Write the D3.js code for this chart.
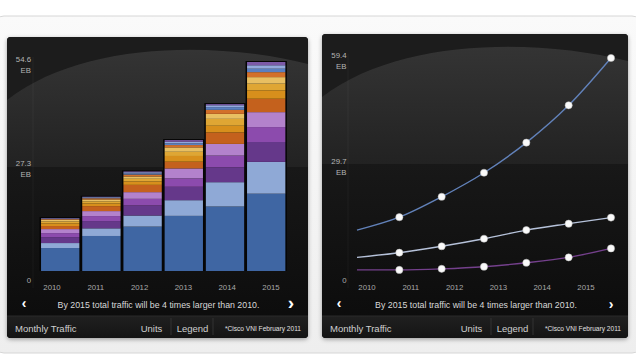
<!DOCTYPE html>
<html><head><meta charset="utf-8">
<script src="https://cdn.jsdelivr.net/npm/d3@7"></script>
<style>
html,body{margin:0;padding:0;background:#fff;}
svg{display:block;font-family:"Liberation Sans",Arial,Helvetica,sans-serif;}
</style></head>
<body>
<svg id="chart" width="636" height="358"></svg>
<script>
// ---------- DATA ----------
const years = ["2010","2011","2012","2013","2014","2015"];
const layerNames = ["Layer 1","Layer 2","Layer 3","Layer 4","Layer 5","Layer 6","Layer 7","Layer 8","Layer 9","Layer 10","Layer 11","Layer 12","Layer 13"];
// stacked segments (EB/month), bottom to top, one array per year
const v2010 = [6.0, 1.3, 1.55, 1.05, 1.05, 0.8, 0.7, 0.5, 0.4, 0.2, 0.1, 0.1, 0.1];
const v2011 = [9.15, 2.0, 1.9, 1.3, 1.3, 1.3, 0.7, 0.55, 0.5, 0.3, 0.15, 0.15, 0.1];
const v2012 = [11.6, 2.9, 2.6, 1.75, 1.75, 1.9, 0.9, 0.7, 0.6, 0.5, 0.3, 0.3, 0.2];
const v2013 = [14.4, 4.1, 3.5, 2.2, 2.6, 1.75, 1.5, 1.1, 1.15, 0.6, 0.45, 0.4, 0.45];
const v2014 = [16.85, 6.35, 3.9, 3.05, 3.05, 3.0, 1.75, 1.8, 1.3, 1.05, 0.7, 0.5, 0.3];
const v2015 = [20.2, 8.3, 5.2, 3.9, 3.9, 3.5, 2.2, 1.75, 1.7, 1.3, 0.9, 0.9, 0.85];
const barTicks = [0, 27.3, 54.6];

// line chart: first point is the unmarked start of each line, then 2010..2015
const linePoints = ["start","2010","2011","2012","2013","2014","2015"];
const lineTop = [11.4, 15.0, 20.7, 27.4, 35.8, 46.2, 59.4];
const lineMid = [3.8, 5.1, 6.9, 9.0, 11.4, 13.2, 14.9];
const lineLow = [0.3, 0.3, 0.6, 1.2, 2.3, 3.8, 6.3];
const lineTicks = [0, 29.7, 59.4];

const sentence = "By 2015 total traffic will be 4 times larger than 2010.";
const footerTitle = "Monthly Traffic";
const footerUnits = "Units";
const footerLegend = "Legend";
const footerSource = "*Cisco VNI February 2011";

// ---------- STYLE ----------
const layerColors = ["#3f66a3","#8fa9d6","#65388a","#8c4bad","#b382cc","#c4611d","#d78f1c","#dfa634","#e8bf62","#d2702a","#5a7fc0","#93a8dc","#7c5aa8"];
const lineColors = ["#6282ba","#b6c2da","#74408c"];

const svg = d3.select("#chart");
const defs = svg.append("defs");

const gTop = defs.append("linearGradient").attr("id","gTop").attr("x1",0).attr("y1",0).attr("x2",0).attr("y2",1);
gTop.append("stop").attr("offset","0%").attr("stop-color","#363636");
gTop.append("stop").attr("offset","100%").attr("stop-color","#222");
const gBot = defs.append("linearGradient").attr("id","gBot").attr("x1",0).attr("y1",0).attr("x2",0).attr("y2",1);
gBot.append("stop").attr("offset","0%").attr("stop-color","#181818");
gBot.append("stop").attr("offset","100%").attr("stop-color","#0b0b0b");
const gFoot = defs.append("linearGradient").attr("id","gFoot").attr("x1",0).attr("y1",0).attr("x2",0).attr("y2",1);
gFoot.append("stop").attr("offset","0%").attr("stop-color","#202020");
gFoot.append("stop").attr("offset","100%").attr("stop-color","#141414");
const gFrame = defs.append("linearGradient").attr("id","gFrame").attr("x1",0).attr("y1",0).attr("x2",0).attr("y2",1);
gFrame.append("stop").attr("offset","0%").attr("stop-color","#fafafa");
gFrame.append("stop").attr("offset","100%").attr("stop-color","#eeeeee");
const sh = defs.append("filter").attr("id","shadow").attr("x","-5%").attr("y","-5%").attr("width","110%").attr("height","112%");
sh.append("feDropShadow").attr("dx",0).attr("dy",1.5).attr("stdDeviation",2).attr("flood-color","#000").attr("flood-opacity",0.35);

// outer frame
svg.append("rect").attr("x",-6).attr("y",16).attr("width",648).attr("height",337).attr("rx",10)
  .attr("fill","url(#gFrame)").attr("stroke","#d6d6d6");

function drawPanel(x, y, w, h, bigArrow) {
  const g = svg.append("g").attr("transform",`translate(${x},${y})`);
  const clipId = "clip" + x;
  defs.append("clipPath").attr("id",clipId).append("rect").attr("width",w).attr("height",h).attr("rx",4);
  g.append("rect").attr("width",w).attr("height",h).attr("rx",4).attr("fill","#111").attr("filter","url(#shadow)");
  const bg = g.append("g").attr("clip-path",`url(#${clipId})`);
  const split = 130;
  bg.append("rect").attr("width",w).attr("height",split).attr("fill","url(#gTop)");
  // darker cap above gloss arc
  bg.append("path").attr("d",`M0,0 L${w},0 L${w},27 C${w*0.7},4 ${w*0.25},4 0,63 Z`).attr("fill","#1c1c1c");
  bg.append("rect").attr("y",split).attr("width",w).attr("height",h - split).attr("fill","url(#gBot)");
  bg.append("rect").attr("y",h - 22).attr("width",w).attr("height",22).attr("fill","url(#gFoot)");
  bg.append("line").attr("x1",0).attr("x2",w).attr("y1",h-22).attr("y2",h-22).attr("stroke","#2a2a2a");
  // footer texts
  g.append("text").attr("x",w/2 + 1).attr("y",h-30.5).attr("text-anchor","middle")
    .attr("fill","#d8d8d8").attr("font-size",8.8).text(sentence);
  g.append("text").attr("x",17).attr("y",h-30).attr("text-anchor","middle")
    .attr("fill","#fff").attr("font-size",14).attr("font-weight","bold").text("‹");
  g.append("text").attr("x",w - 17).attr("y",h-29).attr("text-anchor","middle")
    .attr("fill","#fff").attr("font-size",bigArrow ? 19 : 14).attr("font-weight","bold").text("›");
  g.append("text").attr("x",8).attr("y",h-6).attr("fill","#cfcfcf").attr("font-size",9.5).text(footerTitle);
  g.append("text").attr("x",w-156.5).attr("y",h-6).attr("text-anchor","middle").attr("fill","#cfcfcf").attr("font-size",9.5).text(footerUnits);
  g.append("text").attr("x",w-115.5).attr("y",h-6).attr("text-anchor","middle").attr("fill","#cfcfcf").attr("font-size",9.5).text(footerLegend);
  g.append("text").attr("x",w-7).attr("y",h-7).attr("text-anchor","end").attr("fill","#e0e0e0").attr("font-size",6.6).text(footerSource);
  [w-137, w-95].forEach(sx => g.append("line").attr("x1",sx).attr("x2",sx).attr("y1",h-20).attr("y2",h-3).attr("stroke","#333"));
  // faint axis edge
  g.append("line").attr("x1",26).attr("x2",26).attr("y1",20).attr("y2",h-50).attr("stroke","#fff").attr("stroke-opacity",0.04);
  return g;
}

function yLabels(g, scale, ticks, rightX) {
  ticks.forEach(t => {
    if (t === 0) {
      g.append("text").attr("x",rightX).attr("y",scale(t)+9).attr("dy","0.35em").attr("text-anchor","end")
        .attr("fill","#aaa").attr("font-size",7.8).text("0");
    } else {
      g.append("text").attr("x",rightX).attr("y",scale(t)-3).attr("dy","0.35em").attr("text-anchor","end")
        .attr("fill","#b5b5b5").attr("font-size",7.8).text(d3.format(".1f")(t));
      g.append("text").attr("x",rightX).attr("y",scale(t)+8).attr("dy","0.35em").attr("text-anchor","end")
        .attr("fill","#b5b5b5").attr("font-size",7.8).text("EB");
    }
  });
}

function xLabels(g, yPos) {
  const xl = d3.scalePoint().domain(years).range([45, 264]);
  years.forEach(yr => g.append("text").attr("x",xl(yr)).attr("y",yPos).attr("dy","0.35em")
    .attr("text-anchor","middle").attr("fill","#a8a8a8").attr("font-size",7.8).text(yr));
}

// ---------- LEFT: stacked bars ----------
const left = drawPanel(7, 37, 301, 301, true);
const yL = d3.scaleLinear().domain([0, 54.6]).range([234, 25]);
const xB = d3.scaleBand().domain(years).range([32.6, 279.8]).paddingInner(0.07).paddingOuter(0.035);
const yearVals = [v2010, v2011, v2012, v2013, v2014, v2015];
const table = years.map((yr, i) => {
  const row = {year: yr};
  layerNames.forEach((n, j) => row[n] = yearVals[i][j]);
  return row;
});
const stack = d3.stack().keys(layerNames)(table);
// dark gaps behind bars
left.append("g").selectAll("rect").data(table).join("rect")
  .attr("x", d => xB(d.year) - 1.5).attr("width", xB.bandwidth() + 3)
  .attr("y", d => yL(d3.sum(layerNames, n => d[n])) - 1).attr("height", d => yL(0) - yL(d3.sum(layerNames, n => d[n])) + 1)
  .attr("fill","#050505");
left.append("g").selectAll("g").data(stack).join("g")
  .attr("fill", (d, i) => layerColors[i])
  .selectAll("rect").data(d => d).join("rect")
  .attr("x", d => xB(d.data.year)).attr("width", xB.bandwidth())
  .attr("y", d => yL(d[1])).attr("height", d => yL(d[0]) - yL(d[1]));
yLabels(left, yL, barTicks, 24);
xLabels(left, 250.5);

// ---------- RIGHT: lines ----------
const right = drawPanel(322, 34, 306, 304, false);
const yR = d3.scaleLinear().domain([0, 59.4]).range([237, 24]);
const xR = d3.scaleLinear().domain([0, linePoints.length - 1]).range([35, 289]);
yLabels(right, yR, lineTicks, 24.5);
xLabels(right, 253.5);
const lineGen = d3.line().x((d, i) => xR(i)).y(d => yR(d)).curve(d3.curveMonotoneX);
[lineLow, lineMid, lineTop].forEach((s, k) => {
  const col = [lineColors[2], lineColors[1], lineColors[0]][k];
  right.append("path").datum(s).attr("d", lineGen).attr("fill","none").attr("stroke",col).attr("stroke-width",1.4);
  right.append("g").selectAll("circle").data(s.slice(1)).join("circle")
    .attr("cx", (d, i) => xR(i + 1)).attr("cy", d => yR(d)).attr("r",3.6)
    .attr("fill","#fafafa").attr("stroke","#bbb").attr("stroke-width",0.5);
});
</script>
</body></html>
